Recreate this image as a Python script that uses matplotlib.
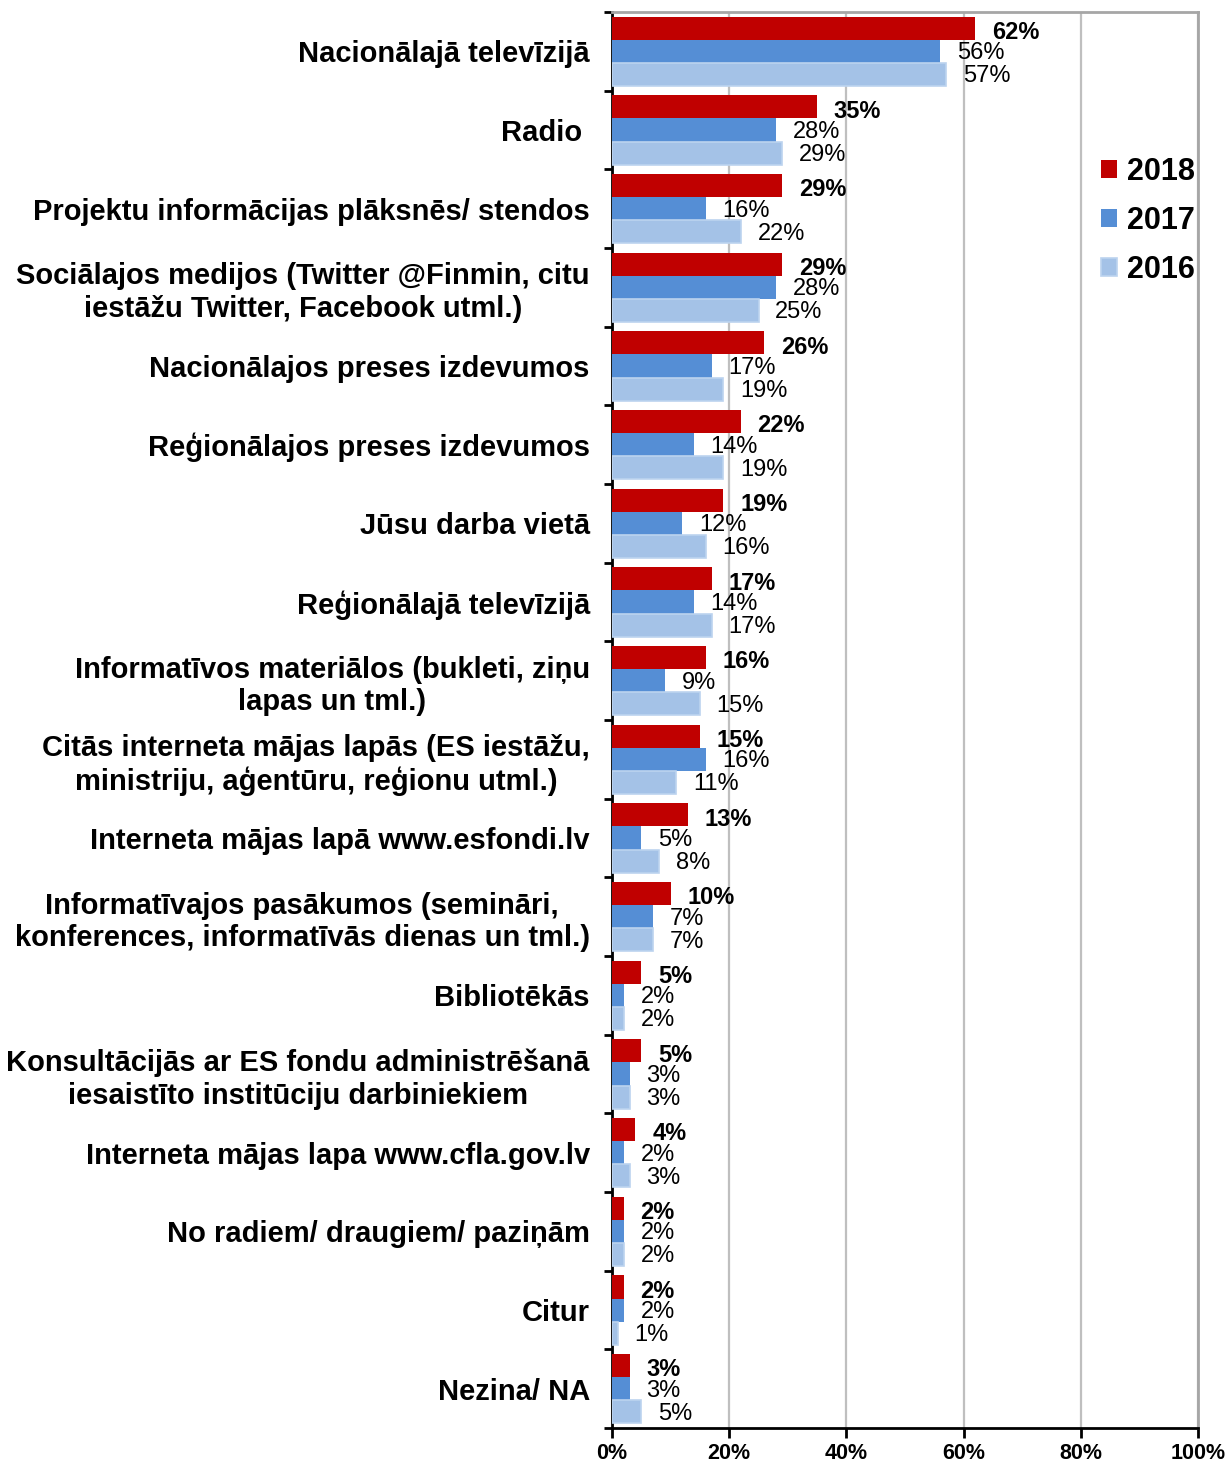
import numpy as np
import matplotlib
matplotlib.use("Agg")
import matplotlib.pyplot as plt

plt.rcParams['font.family'] = ['Liberation Sans', 'DejaVu Sans']

# categories, top to bottom
categories = [
    "Nacionālajā televīzijā",
    "Radio ",
    "Projektu informācijas plāksnēs/ stendos",
    "Sociālajos medijos (Twitter @Finmin, citu\niestāžu Twitter, Facebook utml.)",
    "Nacionālajos preses izdevumos",
    "Reģionālajos preses izdevumos",
    "Jūsu darba vietā",
    "Reģionālajā televīzijā",
    "Informatīvos materiālos (bukleti, ziņu\nlapas un tml.)",
    "Citās interneta mājas lapās (ES iestāžu,\nministriju, aģentūru, reģionu utml.)",
    "Interneta mājas lapā www.esfondi.lv",
    "Informatīvajos pasākumos (semināri,\nkonferences, informatīvās dienas un tml.)",
    "Bibliotēkās",
    "Konsultācijās ar ES fondu administrēšanā\niesaistīto institūciju darbiniekiem",
    "Interneta mājas lapa www.cfla.gov.lv",
    "No radiem/ draugiem/ paziņām",
    "Citur",
    "Nezina/ NA",
]
v2018 = [62, 35, 29, 29, 26, 22, 19, 17, 16, 15, 13, 10, 5, 5, 4, 2, 2, 3]
v2017 = [56, 28, 16, 28, 17, 14, 12, 14, 9, 16, 5, 7, 2, 3, 2, 2, 2, 3]
v2016 = [57, 29, 22, 25, 19, 19, 16, 17, 15, 11, 8, 7, 2, 3, 3, 2, 1, 5]
years = ["2018", "2017", "2016"]

col18 = "#C00000"
col17 = "#558ED5"
col16 = "#A4C2E7"

fig = plt.figure(figsize=(12.28, 14.63), dpi=100)
ax = fig.add_axes([0.4984, 0.0239, 0.4772, 0.9679])

y = np.arange(len(categories))
h = 0.293

b1 = ax.barh(y - h, v2018, height=h, color=col18, label=years[0], zorder=3)
b2 = ax.barh(y, v2017, height=h, color=col17, label=years[1], zorder=3)
b3 = ax.barh(y + h, v2016, height=h, color=col16, edgecolor="#BCD3EF",
             linewidth=1.2, label=years[2], zorder=3)

for bars, vals, wt, dy in [(b1, v2018, 'bold', -3), (b2, v2017, 'normal', -1.5),
                           (b3, v2016, 'normal', -1.5)]:
    for b, v in zip(bars, vals):
        ax.annotate(f"{v}%", (b.get_width(), b.get_y() + b.get_height() / 2),
                    xytext=(12, dy), textcoords='offset points',
                    ha='left', va='center', fontsize=17, fontweight=wt, zorder=4)

ax.set_xlim(0, 100)
ax.set_ylim(len(categories) - 0.5, -0.5)
ax.set_xticks(np.arange(0, 101, 20))
ax.set_xticklabels([f"{t}%" for t in range(0, 101, 20)], fontsize=15.5, fontweight='bold')
ax.xaxis.grid(True, color="#BFBFBF", linewidth=1.6, zorder=0)
ax.tick_params(axis='x', length=7, width=2, pad=4)

ax.set_yticks(y)
ax.set_yticklabels(categories, fontsize=21, fontweight='bold')
for lbl in ax.get_yticklabels():
    lbl.set_multialignment('center')
    lbl.set_linespacing(1.2)
ax.tick_params(axis='y', which='major', length=0, pad=16)
ax.set_yticks(np.arange(-0.5, len(categories)), minor=True)
ax.tick_params(axis='y', which='minor', length=6, width=2)

for s in ['left', 'bottom']:
    ax.spines[s].set_linewidth(2)
    ax.spines[s].set_color('black')
for s in ['top', 'right']:
    ax.spines[s].set_linewidth(2)
    ax.spines[s].set_color('#A6A6A6')

ax.legend(loc='center left', bbox_to_anchor=(0.834, 0.8525), frameon=False,
          prop={'weight': 'bold', 'size': 22}, handlelength=0.52, handleheight=0.52,
          handletextpad=0.35, labelspacing=0.62, borderpad=0, borderaxespad=0)

fig.savefig("out.png", dpi=100)
